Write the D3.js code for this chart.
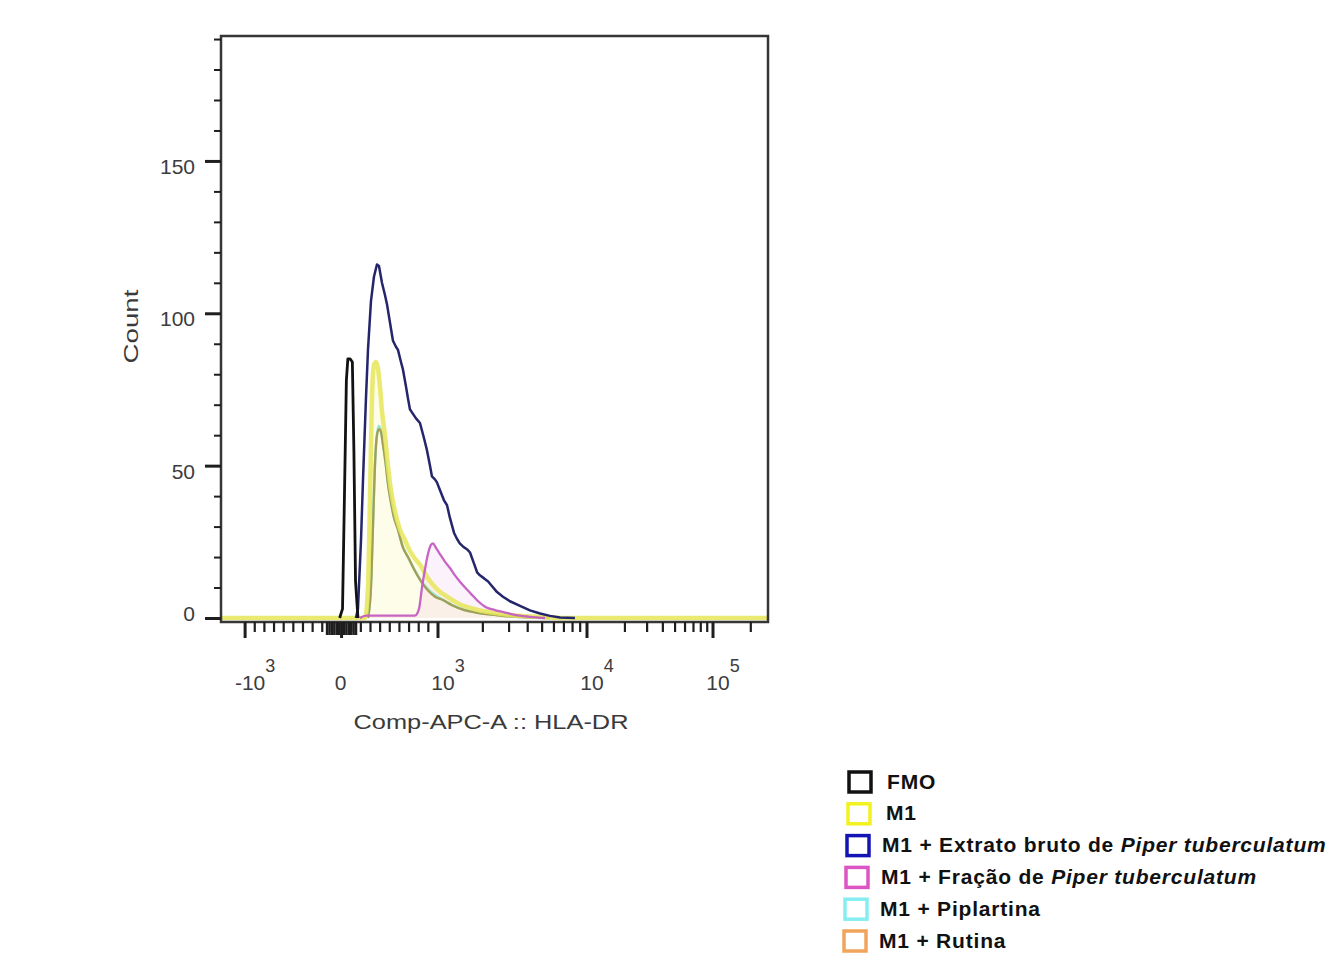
<!DOCTYPE html>
<html>
<head>
<meta charset="utf-8">
<script src="https://cdn.jsdelivr.net/npm/d3@7"></script>
<style>
  html, body { margin: 0; padding: 0; background: #fff; }
  svg { display: block; }
  text { font-family: "Liberation Sans", Arial, Helvetica, sans-serif; }
</style>
</head>
<body>
<script>
// Histogram overlay: HLA-DR (Comp-APC-A) expression, counts per channel.
// Each series: [fluorescence value, count]
const fmo = [[-20,0],[10,3],[30,40],[50,78],[65,85],[90,85],[112,84],[128,55],[145,12],[170,0]];

const m1 = [[-1250,0],[243,0],[274,10],[295,40],[315,72],[336,83],[357,84],[377,82],[398,76],[419,68],
  [450,60],[481,50],[512,42],[554,35],[606,29],[658,25.5],[709,22],[761,19.5],[813,17.5],[896,13],
  [989,9.5],[1150,7],[1400,4.5],[1800,2.8],[2280,1.8],[3040,1],[4840,0.4],[7690,0],[270000,0]];

const extratoBruto = [[149,0],[170,3],[201,25],[222,45],[253,72],[274,88],[305,104],[336,112],[367,116],[388,115.5],
  [419,110],[450,106],[471,103],[502,97],[533,91],[564,89],[585,88],[616,84],[637,81.5],[668,76],
  [689,72],[709,68.5],[730,67.5],[772,65.5],[813,64],[855,59],[886,55],[917,50],[937,46.5],[968,45.5],
  [989,44.5],[1030,42],[1100,38.5],[1150,37],[1200,33],[1280,28],[1340,26],[1400,24.5],[1470,23.5],[1570,22.5],
  [1640,21.5],[1740,18],[1830,15],[1910,14],[2040,13],[2170,12],[2300,10.5],[2490,8.5],[2730,7],[3040,5.5],
  [3550,4],[4140,2.5],[4840,1.5],[5650,0.7],[6590,0.2],[8300,0]];

const fracao = [[191,0],[253,0.8],[761,0.8],[803,3],[834,10],[865,16],[896,21],[927,24],[948,24.5],[979,23],
  [1030,21],[1110,18.6],[1200,16.5],[1300,14],[1400,12],[1520,10],[1660,8],[1860,5.5],[2100,3.5],[2410,2.6],
  [2820,1.8],[3290,1],[4140,0.4],[5230,0]];

const piplartina = [[274,0],[300,8],[322,28],[343,48],[364,59],[384,63],[405,62],[426,58],[456,51],[478,45],
  [510,38.5],[540,33.5],[580,29.5],[630,24],[680,20.5],[745,16.5],[830,12],[896,9.5],[968,7.5],[1070,6],
  [1240,4.3],[1500,2.8],[1790,1.9],[2410,1.1],[3040,0.6],[4140,0.2],[5650,0]];

const rutina = [[274,0],[305,10],[326,30],[346,50],[367,60],[388,62],[409,61],[429,57],[460,50],[481,44],
  [512,38],[543,33],[585,29],[637,23],[689,20],[751,16],[834,11.5],[896,9],[968,7],[1070,6],
  [1240,4.2],[1500,2.6],[1790,1.8],[2410,1],[3040,0.5],[4140,0.2],[5650,0]];

// Axis ticks and labels
const yMajorTicks = [0, 50, 100, 150];
const xMajorTicks = [-1000, 0, 1000, 10000, 100000];
const xTickBase = ["-10", "0", "10", "10", "10"];
const xTickExp = ["3", "", "3", "4", "5"];

// Legend
const legendNames = [
  ["FMO", ""],
  ["M1", ""],
  ["M1 + Extrato bruto de ", "Piper tuberculatum"],
  ["M1 + Fração de ", "Piper tuberculatum"],
  ["M1 + Piplartina", ""],
  ["M1 + Rutina", ""]
];
const legendColors = ["#111111", "#f2f21e", "#1414b4", "#dc55c4", "#86eef2", "#f0a45c"];

const W = 1334, H = 953;
const svg = d3.select("body").append("svg").attr("width", W).attr("height", H);

const plot = { left: 221, top: 36, right: 768, bottom: 622 };

// Biexponential-style x axis: linear around zero, logarithmic above 10^3
const toDisplay = v => v <= 1000 ? v / 1000 : 1 + Math.log10(v / 1000);
const xDisp = d3.scaleLinear()
  .domain([-1.25, 1, 2, 3, 3.43])
  .range([plot.left, 438, 587, 713, plot.right - 1]);
const x = v => xDisp(toDisplay(v));

const y = d3.scaleLinear().domain([0, 191]).range([618, plot.top]);

// Fills beneath M1 and Fração curves
const area = d3.area().x(d => x(d[0])).y0(y(0)).y1(d => y(d[1])).curve(d3.curveMonotoneX);
svg.append("path").datum(m1).attr("d", area).attr("fill", "rgba(245,245,120,0.16)");
svg.append("path").datum(fracao).attr("d", area).attr("fill", "rgba(235,160,225,0.14)");

const smooth = d3.line().x(d => x(d[0])).y(d => y(d[1])).curve(d3.curveMonotoneX);
const jagged = d3.line().x(d => x(d[0])).y(d => y(d[1]));

function drawCurve(data, gen, color, width, opacity) {
  svg.append("path").datum(data).attr("d", gen)
    .attr("fill", "none").attr("stroke", color).attr("stroke-width", width)
    .attr("stroke-linejoin", "round").attr("stroke-opacity", opacity);
}

drawCurve(piplartina, smooth, "#8ee2d2", 2.6, 0.9);
drawCurve(rutina, smooth, "#a29a4e", 2.3, 0.95);
drawCurve(m1, smooth, "#e6e65a", 4.5, 0.85);
drawCurve(fracao, smooth, "#c45cc2", 2.3, 0.95);
drawCurve(extratoBruto, jagged, "#25256c", 2.5, 1);
drawCurve(fmo, jagged, "#121212", 2.8, 1);

// Frame
svg.append("rect")
  .attr("x", plot.left).attr("y", plot.top)
  .attr("width", plot.right - plot.left).attr("height", plot.bottom - plot.top)
  .attr("fill", "none").attr("stroke", "#363636").attr("stroke-width", 2.5);

// Y axis ticks
const yAxisMajor = d3.axisLeft(y).tickValues(yMajorTicks).tickSize(16).tickFormat("");
const yAxisMinor = d3.axisLeft(y).tickValues(d3.range(10, 191, 10).filter(v => v % 50 !== 0)).tickSize(7).tickFormat("");
const gyMaj = svg.append("g").attr("transform", `translate(${plot.left},0)`).call(yAxisMajor);
const gyMin = svg.append("g").attr("transform", `translate(${plot.left},0)`).call(yAxisMinor);
[gyMaj, gyMin].forEach(g => {
  g.select(".domain").remove();
  g.selectAll("line").attr("stroke", "#1e1e1e");
});
gyMaj.selectAll("line").attr("stroke-width", 3);
gyMin.selectAll("line").attr("stroke-width", 2);

svg.append("g").selectAll("text").data(yMajorTicks).join("text")
  .attr("x", 195)
  .attr("y", d => d === 0 ? y(d) + 3 : y(d) + 13)
  .attr("text-anchor", "end")
  .attr("font-size", 21)
  .attr("fill", "#3c3c3c")
  .text(d => d);

// X axis ticks
const xMinorTicks = [].concat(
  d3.range(-900, 0, 100),
  d3.range(100, 1000, 100),
  d3.range(2000, 10000, 1000),
  d3.range(20000, 100000, 10000),
  [200000]
);
const xDenseTicks = d3.range(-150, 151, 25).filter(v => v !== 0);
const gx = svg.append("g");
function xTicks(vals, len, w) {
  gx.append("g").selectAll("line").data(vals).join("line")
    .attr("x1", d => x(d)).attr("x2", d => x(d))
    .attr("y1", plot.bottom).attr("y2", plot.bottom + len)
    .attr("stroke", "#1e1e1e").attr("stroke-width", w);
}
xTicks(xMinorTicks, 10, 2.2);
xTicks(xDenseTicks, 13, 2.5);
xTicks(xMajorTicks, 16, 3);

const xl = svg.append("g").selectAll("text").data(xMajorTicks).join("text")
  .attr("x", (d, i) => xTickExp[i] ? x(d) + 10 : x(d) - 1)
  .attr("y", 690)
  .attr("text-anchor", "middle")
  .attr("font-size", 21)
  .attr("fill", "#3c3c3c");
xl.append("tspan").text((d, i) => xTickBase[i]);
xl.append("tspan").attr("dy", -18).attr("font-size", 18).text((d, i) => xTickExp[i]);

// Axis titles
svg.append("text")
  .attr("x", 491).attr("y", 729)
  .attr("text-anchor", "middle")
  .attr("font-size", 20)
  .attr("fill", "#3a3a3a")
  .attr("textLength", 275).attr("lengthAdjust", "spacingAndGlyphs")
  .text("Comp-APC-A :: HLA-DR");

svg.append("text")
  .attr("transform", "translate(138,326.5) rotate(-90)")
  .attr("text-anchor", "middle")
  .attr("font-size", 21)
  .attr("fill", "#3a3a3a")
  .attr("textLength", 74).attr("lengthAdjust", "spacingAndGlyphs")
  .text("Count");

// Legend
const legend = svg.append("g");
const rowY = i => 782 + i * 31.8;
legendNames.forEach((parts, i) => {
  const cx = 860 - i;
  legend.append("rect")
    .attr("x", cx - 11).attr("y", rowY(i) - 10)
    .attr("width", 22).attr("height", 20)
    .attr("fill", "#fff")
    .attr("stroke", legendColors[i]).attr("stroke-width", 3.5);
  const t = legend.append("text")
    .attr("x", cx + 24 + (i < 2 ? 3 : 0)).attr("y", rowY(i) + 6.5)
    .attr("font-size", 21).attr("font-weight", "bold")
    .attr("letter-spacing", 0.8)
    .attr("fill", "#111");
  t.append("tspan").text(parts[0]);
  if (parts[1]) t.append("tspan").attr("font-style", "italic").text(parts[1]);
});
</script>
</body>
</html>
